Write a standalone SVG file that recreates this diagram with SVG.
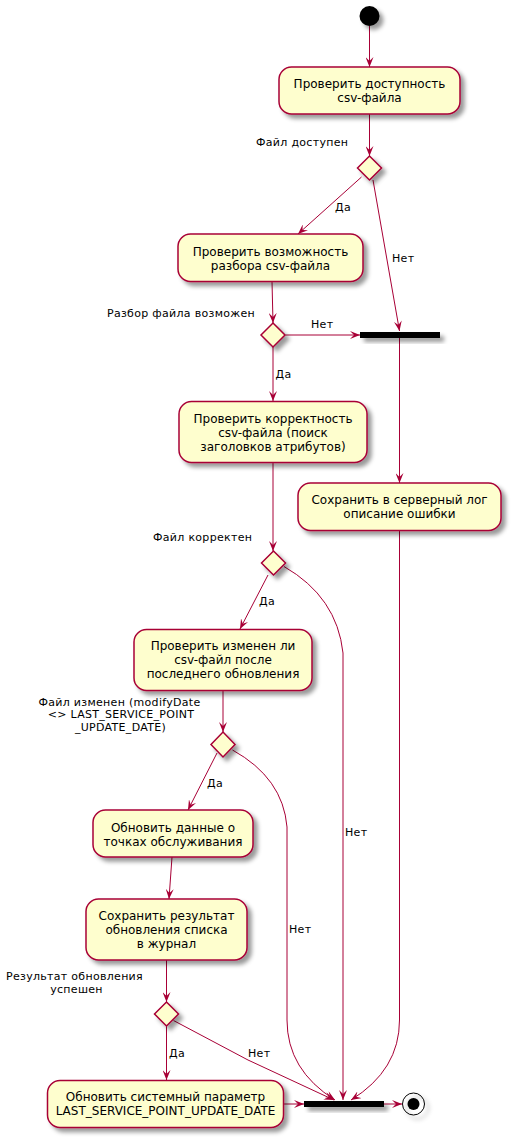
<svg xmlns="http://www.w3.org/2000/svg" width="514" height="1140" viewBox="0 0 514 1140">
<style>
.act{fill:#FEFECE;stroke:#A80036;stroke-width:1.5;filter:url(#sh)}
.dec{fill:#FEFECE;stroke:#A80036;stroke-width:1.5;filter:url(#sh)}
.bar{fill:#000000;filter:url(#sh)}
.t{font-family:"DejaVu Sans",Verdana,sans-serif;font-size:12px;fill:#000000;text-anchor:middle}
.l{font-family:"DejaVu Sans",Verdana,sans-serif;font-size:11px;fill:#000000;letter-spacing:0.3px}
.c path{fill:none;stroke:#A80036;stroke-width:1;marker-end:url(#ah)}
</style>
<defs>
<filter id="sh" x="-1" y="-1" width="300%" height="300%">
<feGaussianBlur result="b1" stdDeviation="2"/>
<feColorMatrix in="b1" result="b2" type="matrix" values="0 0 0 0 0 0 0 0 0 0 0 0 0 0 0 0 0 0 .4 0"/>
<feOffset dx="4" dy="4" in="b2" result="b3"/>
<feBlend in="SourceGraphic" in2="b3" mode="normal"/>
</filter>
<marker id="ah" viewBox="0 0 10 8" refX="10" refY="4" markerWidth="10" markerHeight="8" markerUnits="userSpaceOnUse" orient="auto">
<path d="M0,0 L10,4 L0,8 L4,4 Z" fill="#A80036"/>
</marker>
</defs>
<rect width="514" height="1140" fill="#FFFFFF"/>

<g id="connectors" class="c">
<path d="M369.5,26 L369.5,67"/>
<path d="M369.5,114 L369.5,156"/>
<path d="M361.5,177 L298,234"/>
<path d="M373,180 L399.5,331"/>
<path d="M272,281.5 L273,323"/>
<path d="M285.5,335 L360,335"/>
<path d="M273,347 L273,401"/>
<path d="M273,462 L273,551"/>
<path d="M399.5,338 L399.5,483"/>
<path d="M268,575 L240,629"/>
<path d="M284,566.5 Q337,597 343,653 L343,1100"/>
<path d="M223,690.5 L223,732"/>
<path d="M217,753 L188,810"/>
<path d="M232.5,750 Q283,778 287,827 L287,1020 Q287,1070 335,1100"/>
<path d="M172,857 L169,899"/>
<path d="M166.5,960 L166.5,1002"/>
<path d="M166.5,1026 L166.5,1080"/>
<path d="M173.5,1020.5 L248,1060 L334,1100"/>
<path d="M283.5,1104 L304,1104"/>
<path d="M384,1104 L402,1104"/>
<path d="M399.5,530.5 L399.5,1020 Q399.5,1070 351,1100"/>
</g>

<g id="edge-labels">
<text class="l" x="335" y="211">Да</text>
<text class="l" x="392" y="262">Нет</text>
<text class="l" x="311" y="328">Нет</text>
<text class="l" x="275.5" y="378">Да</text>
<text class="l" x="259" y="605">Да</text>
<text class="l" x="345" y="836">Нет</text>
<text class="l" x="207" y="787">Да</text>
<text class="l" x="289" y="933">Нет</text>
<text class="l" x="169" y="1057">Да</text>
<text class="l" x="248" y="1057">Нет</text>
</g>

<g id="start"><circle cx="369.5" cy="16" r="10" fill="#000000" filter="url(#sh)"/></g>

<g id="a1">
<rect class="act" x="279" y="67" width="181" height="47" rx="12.5" ry="12.5"/>
<text class="t" x="369.5" y="88">Проверить доступность</text>
<text class="t" x="369.5" y="102">csv-файла</text>
</g>

<g id="d1">
<polygon class="dec" points="369.5,156 381.5,168 369.5,180 357.5,168"/>
<text class="l" x="256" y="146">Файл доступен</text>
</g>

<g id="a2">
<rect class="act" x="178" y="234" width="185" height="47.5" rx="12.5" ry="12.5"/>
<text class="t" x="270.5" y="255.5">Проверить возможность</text>
<text class="t" x="270.5" y="269.5">разбора csv-файла</text>
</g>

<g id="d2">
<polygon class="dec" points="273,323 285,335 273,347 261,335"/>
<text class="l" x="107" y="317">Разбор файла возможен</text>
</g>

<g id="bar1"><rect class="bar" x="360" y="332" width="80" height="6"/></g>

<g id="a3">
<rect class="act" x="179" y="401.5" width="188" height="61" rx="12.5" ry="12.5"/>
<text class="t" x="273" y="422.5">Проверить корректность</text>
<text class="t" x="273" y="436.5">csv-файла (поиск</text>
<text class="t" x="273" y="450.5">заголовков атрибутов)</text>
</g>

<g id="a4">
<rect class="act" x="298" y="483" width="203" height="47.5" rx="12.5" ry="12.5"/>
<text class="t" x="399.5" y="504">Сохранить в серверный лог</text>
<text class="t" x="399.5" y="518">описание ошибки</text>
</g>

<g id="d3">
<polygon class="dec" points="273.5,551 285.5,563 273.5,575 261.5,563"/>
<text class="l" x="153" y="541">Файл корректен</text>
</g>

<g id="a5">
<rect class="act" x="134" y="629.5" width="178" height="61" rx="12.5" ry="12.5"/>
<text class="t" x="223" y="650">Проверить изменен ли</text>
<text class="t" x="223" y="664">csv-файл после</text>
<text class="t" x="223" y="678">последнего обновления</text>
</g>

<g id="d4">
<polygon class="dec" points="223,732 235,744.5 223,757 211,744.5"/>
<text class="l" x="119.5" y="705.5" text-anchor="middle">Файл изменен (modifyDate</text>
<text class="l" x="121" y="718.3" text-anchor="middle">&lt;&gt; LAST_SERVICE_POINT</text>
<text class="l" x="120.5" y="731" text-anchor="middle">_UPDATE_DATE)</text>
</g>

<g id="a6">
<rect class="act" x="93" y="810" width="160" height="47" rx="12.5" ry="12.5"/>
<text class="t" x="173" y="831.5">Обновить данные о</text>
<text class="t" x="173" y="845.5">точках обслуживания</text>
</g>

<g id="a7">
<rect class="act" x="86" y="899" width="161" height="61" rx="12.5" ry="12.5"/>
<text class="t" x="166.5" y="920">Сохранить результат</text>
<text class="t" x="166.5" y="934">обновления списка</text>
<text class="t" x="166.5" y="948">в журнал</text>
</g>

<g id="d5">
<polygon class="dec" points="166.5,1002 178.5,1014 166.5,1026 154.5,1014"/>
<text class="l" x="74.5" y="980" text-anchor="middle">Результат обновления</text>
<text class="l" x="76.5" y="993" text-anchor="middle">успешен</text>
</g>

<g id="a8">
<rect class="act" x="47.5" y="1080.5" width="236" height="47" rx="12.5" ry="12.5"/>
<text class="t" x="165.5" y="1101">Обновить системный параметр</text>
<text class="t" x="165.5" y="1115">LAST_SERVICE_POINT_UPDATE_DATE</text>
</g>

<g id="bar2"><rect class="bar" x="304" y="1101" width="80" height="6"/></g>

<g id="end">
<circle cx="413.5" cy="1104" r="11" fill="none" stroke="#000000" stroke-width="1" filter="url(#sh)"/>
<circle cx="413.5" cy="1104" r="6" fill="#000000"/>
</g>
</svg>
